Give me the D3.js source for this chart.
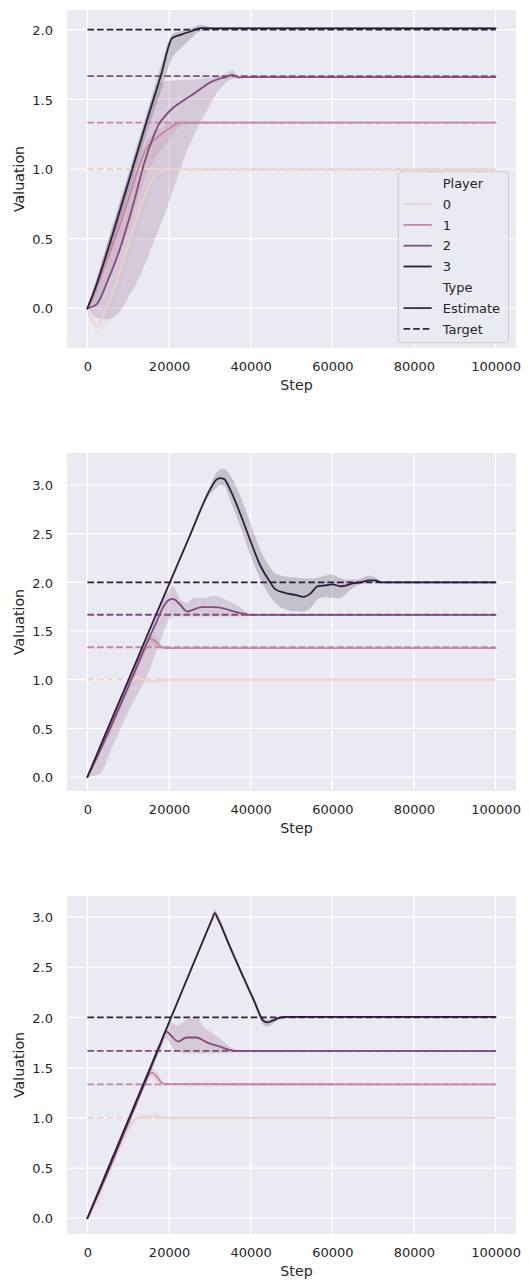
<!DOCTYPE html>
<html>
<head>
<meta charset="utf-8">
<script src="https://cdn.jsdelivr.net/npm/d3@7"></script>
<style>
  html, body { margin: 0; padding: 0; background: #ffffff; }
  svg { display: block; }
</style>
</head>
<body>
<script>
// ---------------- DATA ----------------
const players = [0, 1, 2, 3];
const types = ["Estimate", "Target"];
const targetValues = [1.0, 1.333, 1.667, 2.0];
const targetSteps = [0, 100000];
const xTicks = [0, 20000, 40000, 60000, 80000, 100000];
const yTicksRun1 = [0, 0.5, 1.0, 1.5, 2.0];
const yTicksRun2 = [0, 0.5, 1.0, 1.5, 2.0, 2.5, 3.0];
const yTicksRun3 = [0, 0.5, 1.0, 1.5, 2.0, 2.5, 3.0];

// rows: [step, mean, lower, upper]
const run1Player0 = [
  [0, 0, 0, 0], [1000, -0.08, -0.11, -0.05], [2500, -0.13, -0.19, -0.08],
  [4500, 0.0, -0.12, 0.06], [6000, 0.1, -0.02, 0.16], [8500, 0.32, 0.2, 0.38],
  [11000, 0.55, 0.43, 0.61], [13000, 0.73, 0.62, 0.79], [15000, 0.88, 0.79, 0.92],
  [17000, 0.96, 0.9, 0.985], [19000, 0.985, 0.96, 0.998], [22000, 0.995, 0.99, 1.0],
  [100000, 0.995, 0.99, 1.0]
];
const run1Player1 = [
  [0, 0, 0, 0], [2000, 0.14, 0.03, 0.18], [5500, 0.4, 0.22, 0.46],
  [8000, 0.6, 0.4, 0.68], [10000, 0.78, 0.57, 0.86], [11500, 0.92, 0.7, 0.99],
  [13000, 1.05, 0.84, 1.11], [14500, 1.15, 0.96, 1.2], [16500, 1.21, 1.07, 1.26],
  [18500, 1.26, 1.15, 1.3], [20500, 1.3, 1.23, 1.33], [22500, 1.333, 1.3, 1.338],
  [25000, 1.333, 1.325, 1.338], [100000, 1.333, 1.328, 1.338]
];
const run1Player2 = [
  [0, 0, 0, 0], [2300, 0.03, -0.07, 0.21], [5000, 0.2, -0.08, 0.47],
  [8000, 0.43, -0.02, 0.76], [10000, 0.62, 0.08, 0.95], [12000, 0.83, 0.18, 1.14],
  [14000, 1.05, 0.31, 1.33], [16000, 1.22, 0.46, 1.5], [17500, 1.32, 0.57, 1.61],
  [19000, 1.38, 0.68, 1.63], [21000, 1.44, 0.85, 1.635], [24000, 1.5, 1.1, 1.64],
  [27000, 1.56, 1.3, 1.645], [30000, 1.62, 1.46, 1.655], [32000, 1.645, 1.56, 1.665],
  [34000, 1.66, 1.62, 1.685], [35500, 1.675, 1.645, 1.71], [37000, 1.658, 1.65, 1.67],
  [40000, 1.66, 1.655, 1.665], [100000, 1.66, 1.655, 1.665]
];
const run1Player3 = [
  [0, 0, -0.02, 0.01], [2000, 0.15, 0.1, 0.19], [5000, 0.42, 0.36, 0.48],
  [10000, 0.9, 0.83, 0.96], [15000, 1.39, 1.3, 1.45], [18000, 1.67, 1.56, 1.74],
  [20800, 1.94, 1.8, 1.97], [23000, 1.965, 1.87, 1.99], [25500, 1.99, 1.94, 2.01],
  [27700, 2.012, 1.99, 2.035], [30000, 2.01, 2.0, 2.02], [100000, 2.01, 2.0, 2.02]
];

const run2Player0 = [
  [0, 0, 0, 0], [5000, 0.45, 0.41, 0.48], [10000, 0.93, 0.88, 0.96],
  [11500, 1.01, 0.97, 1.04], [12500, 1.03, 0.99, 1.05], [14000, 1.0, 0.97, 1.03],
  [16000, 0.985, 0.95, 1.01], [18000, 0.99, 0.955, 1.01], [19500, 1.0, 0.99, 1.005],
  [100000, 1.0, 0.995, 1.005]
];
const run2Player1 = [
  [0, 0, 0, 0], [5000, 0.46, 0.4, 0.49], [10000, 0.94, 0.87, 0.98],
  [14000, 1.33, 1.26, 1.37], [15500, 1.42, 1.35, 1.46], [16500, 1.4, 1.35, 1.45],
  [18000, 1.34, 1.31, 1.37], [19500, 1.325, 1.315, 1.335], [100000, 1.325, 1.318, 1.333]
];
const run2Player2 = [
  [0, 0, 0, 0], [3000, 0.26, 0.03, 0.29], [6000, 0.54, 0.3, 0.58],
  [9000, 0.83, 0.58, 0.87], [12000, 1.12, 0.83, 1.16], [14500, 1.37, 1.03, 1.41],
  [17000, 1.6, 1.3, 1.66], [18600, 1.75, 1.48, 1.82], [20000, 1.82, 1.62, 1.92],
  [21000, 1.83, 1.65, 1.96], [22500, 1.78, 1.65, 1.84], [24500, 1.7, 1.65, 1.79],
  [26000, 1.72, 1.65, 1.84], [28000, 1.745, 1.65, 1.84], [31000, 1.745, 1.65, 1.86],
  [33500, 1.73, 1.65, 1.83], [36000, 1.7, 1.65, 1.78], [38500, 1.675, 1.652, 1.71],
  [40000, 1.665, 1.655, 1.675], [100000, 1.665, 1.655, 1.675]
];
const run2Player3 = [
  [0, 0, -0.01, 0.01], [5000, 0.5, 0.48, 0.51], [10000, 0.99, 0.97, 1.0],
  [15000, 1.49, 1.47, 1.5], [20000, 1.98, 1.96, 1.99], [25000, 2.47, 2.45, 2.48],
  [30000, 2.95, 2.9, 2.99], [31500, 3.05, 2.97, 3.12], [32500, 3.07, 3.0, 3.16],
  [33500, 3.06, 2.99, 3.17], [35000, 2.95, 2.84, 3.1], [37500, 2.7, 2.57, 2.88],
  [40000, 2.42, 2.27, 2.6], [42500, 2.16, 2.02, 2.32], [44500, 2.02, 1.87, 2.17],
  [46000, 1.93, 1.79, 2.09], [48500, 1.89, 1.72, 2.06], [51000, 1.87, 1.7, 2.05],
  [53000, 1.85, 1.7, 2.04], [54500, 1.88, 1.73, 2.04], [56500, 1.96, 1.83, 2.05],
  [58500, 1.97, 1.85, 2.07], [60000, 1.98, 1.84, 2.08], [62000, 1.96, 1.84, 2.04],
  [63500, 1.97, 1.89, 2.03], [65000, 1.99, 1.94, 2.03], [67000, 2.0, 1.98, 2.04],
  [69000, 2.02, 1.995, 2.07], [70500, 2.02, 1.995, 2.05], [72000, 2.0, 1.99, 2.015],
  [100000, 2.0, 1.99, 2.01]
];

const run3Player0 = [
  [0, 0, 0, 0], [2000, 0.15, 0.08, 0.2], [5000, 0.44, 0.38, 0.5],
  [8000, 0.72, 0.67, 0.78], [10400, 0.92, 0.87, 0.98], [11500, 0.98, 0.94, 1.03],
  [12500, 1.0, 0.965, 1.04], [15000, 1.01, 0.98, 1.04], [17000, 1.02, 0.99, 1.05],
  [18500, 1.0, 0.99, 1.02], [100000, 1.0, 0.995, 1.005]
];
const run3Player1 = [
  [0, 0, 0, 0], [5000, 0.48, 0.45, 0.51], [10000, 0.96, 0.93, 0.99],
  [14000, 1.35, 1.31, 1.39], [15700, 1.45, 1.4, 1.5], [17000, 1.41, 1.36, 1.46],
  [18200, 1.35, 1.33, 1.38], [19000, 1.335, 1.325, 1.345], [100000, 1.333, 1.326, 1.34]
];
const run3Player2 = [
  [0, 0, 0, 0], [5000, 0.46, 0.42, 0.5], [10000, 0.95, 0.91, 0.99],
  [15000, 1.44, 1.4, 1.48], [18000, 1.74, 1.69, 1.78], [19300, 1.86, 1.79, 1.9],
  [20500, 1.82, 1.72, 1.95], [22200, 1.76, 1.66, 1.92], [24300, 1.8, 1.64, 1.98],
  [26800, 1.8, 1.64, 2.0], [28400, 1.77, 1.64, 1.91], [30000, 1.74, 1.64, 1.86],
  [32500, 1.71, 1.645, 1.79], [34500, 1.68, 1.648, 1.72], [36600, 1.667, 1.652, 1.675],
  [100000, 1.665, 1.655, 1.675]
];
const run3Player3 = [
  [0, 0, -0.01, 0.01], [5000, 0.49, 0.47, 0.51], [10000, 0.975, 0.955, 0.99],
  [15000, 1.46, 1.44, 1.48], [20000, 1.95, 1.93, 1.97], [25000, 2.44, 2.42, 2.46],
  [29000, 2.83, 2.81, 2.85], [30500, 2.975, 2.95, 3.0], [31200, 3.04, 3.0, 3.07],
  [32000, 2.98, 2.95, 3.02], [35000, 2.695, 2.665, 2.73], [38000, 2.42, 2.39, 2.45],
  [41000, 2.15, 2.12, 2.18], [43000, 1.97, 1.93, 2.0], [44000, 1.95, 1.91, 1.98],
  [45500, 1.97, 1.94, 1.99], [47000, 1.995, 1.98, 2.01], [49000, 2.005, 1.995, 2.015],
  [100000, 2.005, 1.995, 2.015]
];

// ---------------- STYLE / LAYOUT ----------------
const playerColors = ["#edd1cb", "#c8879e", "#834c7d", "#2d1e3e"];
const font = "DejaVu Sans, Verdana, sans-serif";
const textColor = "#262626";
const W = 529, H = 1282;
const plotLeft = 67, plotRight = 516, plotH = 338;

const panels = [
  { top: 10,  series: [run1Player0, run1Player1, run1Player2, run1Player3], yDomain: [-0.285, 2.1414], yTicks: yTicksRun1, legend: true },
  { top: 453, series: [run2Player0, run2Player1, run2Player2, run2Player3], yDomain: [-0.144, 3.329], yTicks: yTicksRun2, legend: false },
  { top: 896, series: [run3Player0, run3Player1, run3Player2, run3Player3], yDomain: [-0.157, 3.2096], yTicks: yTicksRun3, legend: false }
];

const svg = d3.select("body").append("svg").attr("width", W).attr("height", H);
svg.append("rect").attr("width", W).attr("height", H).attr("fill", "#ffffff");
const defs = svg.append("defs");

panels.forEach((p, pi) => {
  const top = p.top, bottom = p.top + plotH;
  const x = d3.scaleLinear().domain([-5000, 105000]).range([plotLeft, plotRight]);
  const y = d3.scaleLinear().domain(p.yDomain).range([bottom, top]);
  const g = svg.append("g");

  g.append("rect").attr("x", plotLeft).attr("y", top)
    .attr("width", plotRight - plotLeft).attr("height", plotH).attr("fill", "#eaeaf2");

  // grid
  g.append("g").selectAll("line").data(xTicks).join("line")
    .attr("x1", d => x(d)).attr("x2", d => x(d)).attr("y1", top).attr("y2", bottom)
    .attr("stroke", "#ffffff").attr("stroke-width", 1.2);
  g.append("g").selectAll("line").data(p.yTicks).join("line")
    .attr("y1", d => y(d)).attr("y2", d => y(d)).attr("x1", plotLeft).attr("x2", plotRight)
    .attr("stroke", "#ffffff").attr("stroke-width", 1.2);

  const clipId = "clip" + pi;
  defs.append("clipPath").attr("id", clipId).append("rect")
    .attr("x", plotLeft).attr("y", top).attr("width", plotRight - plotLeft).attr("height", plotH);
  const plot = g.append("g").attr("clip-path", `url(#${clipId})`);

  const area = d3.area().x(d => x(d[0])).y0(d => y(d[2])).y1(d => y(d[3])).curve(d3.curveMonotoneX);
  const line = d3.line().x(d => x(d[0])).y(d => y(d[1])).curve(d3.curveMonotoneX);
  const tline = d3.line().x(d => x(d[0])).y(d => y(d[1]));

  p.series.forEach((s, k) => {
    plot.append("path").datum(s).attr("d", area)
      .attr("fill", playerColors[k]).attr("fill-opacity", 0.2).attr("stroke", "none");
  });
  p.series.forEach((s, k) => {
    plot.append("path").datum(s).attr("d", line)
      .attr("fill", "none").attr("stroke", playerColors[k]).attr("stroke-width", 1.8)
      .attr("stroke-linejoin", "round").attr("stroke-linecap", "round");
    plot.append("path").datum(targetSteps.map(st => [st, targetValues[k]])).attr("d", tline)
      .attr("fill", "none").attr("stroke", playerColors[k]).attr("stroke-width", 1.8)
      .attr("stroke-dasharray", "6.7,2.9");
  });

  // axes
  const xAxis = g.append("g").attr("transform", `translate(0,${bottom})`)
    .call(d3.axisBottom(x).tickValues(xTicks).tickFormat(d3.format("d")).tickSize(0).tickPadding(14.2));
  xAxis.select(".domain").remove();
  xAxis.selectAll("text").attr("font-family", font).attr("font-size", 13).attr("fill", textColor);

  const yAxis = g.append("g").attr("transform", `translate(${plotLeft},0)`)
    .call(d3.axisLeft(y).tickValues(p.yTicks).tickFormat(d3.format(".1f")).tickSize(0).tickPadding(14));
  yAxis.select(".domain").remove();
  yAxis.selectAll("text").attr("font-family", font).attr("font-size", 13).attr("fill", textColor).attr("dy", "0.36em");

  g.append("text").attr("x", (plotLeft + plotRight) / 2 + 5).attr("y", bottom + 42)
    .attr("text-anchor", "middle").attr("font-family", font).attr("font-size", 14.2)
    .attr("fill", textColor).text("Step");
  g.append("text").attr("transform", `translate(23.7,${(top + bottom) / 2}) rotate(-90)`)
    .attr("text-anchor", "middle").attr("font-family", font).attr("font-size", 14.2)
    .attr("fill", textColor).text("Valuation");

  if (p.legend) {
    const lg = g.append("g");
    const lx = 398.3, ly = 171.7, lw = 110.2, lh = 171;
    lg.append("rect").attr("x", lx).attr("y", ly).attr("width", lw).attr("height", lh)
      .attr("rx", 3).attr("fill", "#eaeaf2").attr("fill-opacity", 0.8)
      .attr("stroke", "#cccccc").attr("stroke-width", 1);
    const entries = [{ label: "Player", color: null, dash: null }]
      .concat(players.map((pl, i) => ({ label: String(pl), color: playerColors[i], dash: null })))
      .concat([{ label: "Type", color: null, dash: null }])
      .concat(types.map(t => ({ label: t, color: "#333333", dash: t === "Target" ? "6.7,2.9" : null })));
    entries.forEach((e, i) => {
      const cy = 183.3 + i * 20.8;
      if (e.color) {
        const l = lg.append("line").attr("x1", 403.5).attr("x2", 431.7).attr("y1", cy).attr("y2", cy)
          .attr("stroke", e.color).attr("stroke-width", 1.8);
        if (e.dash) l.attr("stroke-dasharray", e.dash);
      }
      lg.append("text").attr("x", 442.7).attr("y", cy + 4.7)
        .attr("font-family", font).attr("font-size", 13).attr("fill", textColor).text(e.label);
    });
  }
});
</script>
</body>
</html>
